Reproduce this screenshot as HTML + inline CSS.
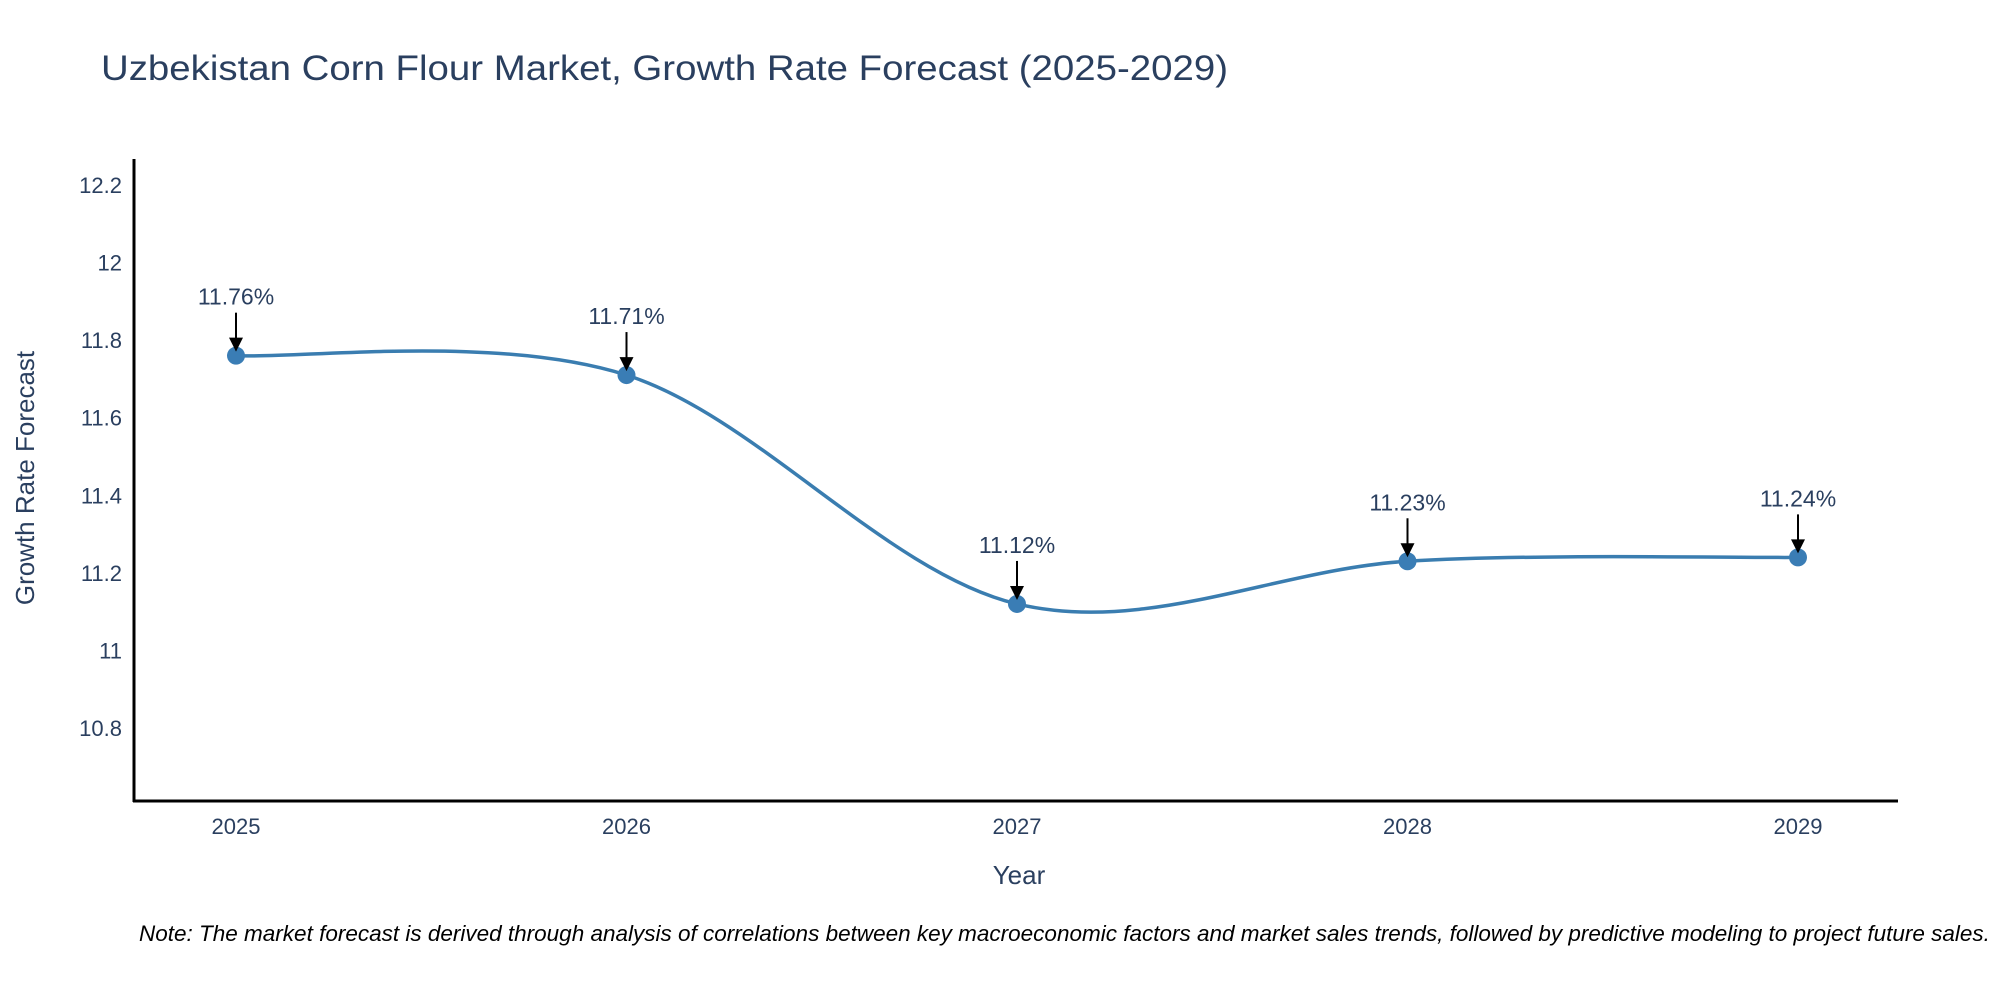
<!DOCTYPE html>
<html><head><meta charset="utf-8"><style>
html,body{margin:0;padding:0;background:#fff;overflow:hidden;}
svg{display:block;font-family:"Liberation Sans",sans-serif;}
</style></head><body>
<svg id="chart" width="2000" height="1000" viewBox="0 0 2000 1000">
<text x="101" y="80" font-size="35" fill="#2a3f5f" textLength="1127" lengthAdjust="spacingAndGlyphs">Uzbekistan Corn Flour Market, Growth Rate Forecast (2025-2029)</text>
<g id="yticks"></g>
<g id="xticks"></g>
<line x1="134" y1="159" x2="134" y2="802" stroke="#000" stroke-width="3"/>
<line x1="133" y1="801" x2="1898" y2="801" stroke="#000" stroke-width="3"/>
<path id="line" fill="none" stroke="#3a7db0" stroke-width="3.5"/>
<g id="marks"></g>
<text transform="translate(34,478) rotate(-90)" text-anchor="middle" font-size="26" fill="#2a3f5f">Growth Rate Forecast</text>
<text x="1019" y="884" text-anchor="middle" font-size="26" fill="#2a3f5f">Year</text>
<text x="139" y="941" font-size="22.5" font-style="italic" fill="#000">Note: The market forecast is derived through analysis of correlations between key macroeconomic factors and market sales trends, followed by predictive modeling to project future sales.</text>
</svg>
<script>
const years = ["2025","2026","2027","2028","2029"];
const values = [11.76, 11.71, 11.12, 11.23, 11.24];
const labels = ["11.76%","11.71%","11.12%","11.23%","11.24%"];
const yTicks = [10.8, 11, 11.2, 11.4, 11.6, 11.8, 12, 12.2];
const yTickLabels = ["10.8","11","11.2","11.4","11.6","11.8","12","12.2"];

const NS = "http://www.w3.org/2000/svg";
const yMin = 10.612, yMax = 12.267, plotTop = 159, plotBottom = 801;
function yScale(v){ return plotBottom - (v - yMin) / (yMax - yMin) * (plotBottom - plotTop); }
function xScale(i){ return 236 + i * 390.5; }

const yg = document.getElementById('yticks');
yTicks.forEach((t, i) => {
  const el = document.createElementNS(NS, 'text');
  
  
  el.setAttribute('x', 122);
  el.setAttribute('y', yScale(t) + 8);
  el.setAttribute('text-anchor', 'end');
  el.setAttribute('font-size', '22');
  el.setAttribute('fill', '#2a3f5f');
  el.textContent = yTickLabels[i];
  yg.appendChild(el);
});
const xg = document.getElementById('xticks');
years.forEach((yr, i) => {
  const el = document.createElementNS(NS, 'text');
  
  
  el.setAttribute('x', xScale(i));
  el.setAttribute('y', 834);
  el.setAttribute('text-anchor', 'middle');
  el.setAttribute('font-size', '22');
  el.setAttribute('fill', '#2a3f5f');
  el.textContent = yr;
  xg.appendChild(el);
});

const pts = values.map((v, i) => [xScale(i), yScale(v)]);
let d = `M${pts[0][0]},${pts[0][1]}`;
const k = 1/6;
for (let i = 0; i < pts.length - 1; i++) {
  const p0 = pts[Math.max(0, i-1)], p1 = pts[i], p2 = pts[i+1], p3 = pts[Math.min(pts.length-1, i+2)];
  const c1 = [p1[0] + (p2[0]-p0[0])*k, p1[1] + (p2[1]-p0[1])*k];
  const c2 = [p2[0] - (p3[0]-p1[0])*k, p2[1] - (p3[1]-p1[1])*k];
  d += ` C${c1[0]},${c1[1]} ${c2[0]},${c2[1]} ${p2[0]},${p2[1]}`;
}
document.getElementById('line').setAttribute('d', d);

const mg = document.getElementById('marks');
pts.forEach((p, i) => {
  const c = document.createElementNS(NS, 'circle');
  
  
  c.setAttribute('cx', p[0]); c.setAttribute('cy', p[1]); c.setAttribute('r', 9);
  c.setAttribute('fill', '#3a7db5');
  mg.appendChild(c);
  const ln = document.createElementNS(NS, 'line');
  
  
  ln.setAttribute('x1', p[0]); ln.setAttribute('x2', p[0]);
  ln.setAttribute('y1', p[1] - 43); ln.setAttribute('y2', p[1] - 14);
  ln.setAttribute('stroke', '#000'); ln.setAttribute('stroke-width', 2);
  mg.appendChild(ln);
  const ah = document.createElementNS(NS, 'polygon');
  
  
  ah.setAttribute('points', `${p[0]-7},${p[1]-18} ${p[0]+7},${p[1]-18} ${p[0]},${p[1]-4}`);
  ah.setAttribute('fill', '#000');
  mg.appendChild(ah);
  const t = document.createElementNS(NS, 'text');
  
  
  t.setAttribute('x', p[0]); t.setAttribute('y', p[1] - 51);
  t.setAttribute('text-anchor', 'middle');
  t.setAttribute('font-size', '23');
  t.setAttribute('fill', '#2a3f5f');
  t.textContent = labels[i];
  mg.appendChild(t);
});
</script>
</body></html>
